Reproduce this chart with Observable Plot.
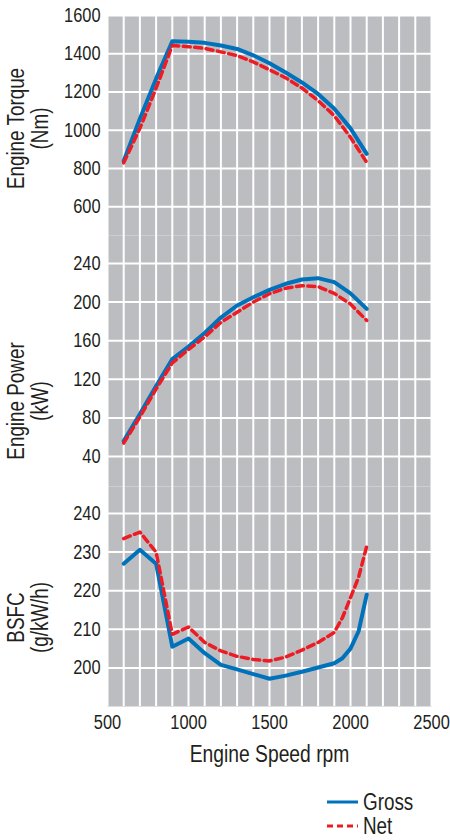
<!DOCTYPE html>
<html>
<head>
<meta charset="utf-8">
<script src="https://cdn.jsdelivr.net/npm/d3@7"></script>
<script src="https://cdn.jsdelivr.net/npm/@observablehq/plot@0.6"></script>
<style>
  body { margin: 0; background: #fff; font-family: "Liberation Sans", Arial, sans-serif; color: #231f20; }
  #chart svg { display: block; }
  #legend { position: absolute; left: 327px; top: 790px; font-size: 23px; }
  #legend .row { display: flex; align-items: center; height: 24px; gap: 5px; }
  #legend svg { display: block; }
  #legend span { display: inline-block; transform: scaleX(0.82); transform-origin: left center; }
</style>
</head>
<body>
<div id="chart"></div>
<div id="legend"></div>
<script>
// ---- data ----
const rpm = [600, 700, 800, 900, 1000, 1100, 1200, 1300, 1400, 1500, 1600, 1700, 1800, 1900, 2000, 2100];
const torqueGross = [840, 1060, 1270, 1465, 1463, 1457, 1443, 1425, 1392, 1350, 1302, 1250, 1190, 1113, 1010, 877];
const torqueNet   = [830, 1010, 1220, 1443, 1437, 1428, 1410, 1390, 1357, 1316, 1274, 1221, 1155, 1076, 963, 832];
const powerGross  = [56, 84, 113, 141, 154, 168, 184, 196.5, 205, 212.7, 219, 223.4, 224.8, 220.7, 209, 193];
const powerNet    = [54, 81, 110, 137, 151, 164, 179, 189.5, 200, 208.6, 214.4, 217, 216, 209, 198, 181];
const bsfcRpm   = [600, 700, 800, 900, 1000, 1100, 1200, 1300, 1400, 1500, 1600, 1700, 1800, 1900, 1950, 2000, 2050, 2100];
const bsfcGross = [227, 230.6, 227, 205.5, 207.6, 203.8, 200.8, 199.6, 198.4, 197.2, 198, 199, 200.1, 201.2, 202.5, 205, 209.5, 219];
const bsfcNet   = [233.5, 235.2, 230, 208.7, 210.6, 206.6, 204.4, 203, 202.2, 201.8, 202.8, 204.6, 206.6, 209.2, 213, 218.2, 223.5, 231.5];

const xTicks = [500, 1000, 1500, 2000, 2500];
const xGrid = d3.range(500, 2501, 100);
const torqueTicks = [600, 800, 1000, 1200, 1400, 1600];
const powerTicks = [40, 80, 120, 160, 200, 240];
const bsfcTicks = [200, 210, 220, 230, 240];
const series = ["Gross", "Net"];

const BLUE = "#0071bb", RED = "#ed1c24", GRAY = "#bcbdc1", INK = "#231f20";
const FONT = '"Liberation Sans", Arial, sans-serif';
const fmt = d => String(d);

function titleMarks(lines, dy) {
  return lines.map((line, i) => Plot.text([line], {
    text: d => d, frameAnchor: "left", textAnchor: "middle", lineAnchor: "middle",
    dx: -91 + 24 * i, dy, rotate: -90, fontSize: 23, fill: INK
  }));
}

function panel({xs, gross, net, yDomain, yTicks, title, titleDy, height, marginTop, marginBottom, showX}) {
  const data = xs.map((x, i) => ({rpm: x, gross: gross[i], net: net[i]}));
  const marks = [
    Plot.frame({fill: GRAY, stroke: "none"}),
    Plot.gridX(xGrid, {stroke: "white", strokeOpacity: 1, strokeWidth: 2}),
    Plot.gridY(yTicks, {stroke: "white", strokeOpacity: 1, strokeWidth: 2}),
    Plot.axisY(yTicks, {tickSize: 0, tickPadding: 7, label: null, fontSize: 20, tickFormat: fmt}),
    Plot.lineY(data, {x: "rpm", y: "gross", stroke: BLUE, strokeWidth: 4}),
    Plot.lineY(data, {x: "rpm", y: "net", stroke: RED, strokeWidth: 3.5, strokeDasharray: "7,4.5"}),
    ...titleMarks(title, titleDy)
  ];
  if (showX) {
    marks.push(Plot.axisX(xTicks, {tickSize: 0, tickPadding: 8, label: null, fontSize: 20, tickFormat: fmt}));
    marks.push(Plot.text(["Engine Speed rpm"], {text: d => d, frameAnchor: "bottom", dy: 55, fontSize: 23.5, fill: INK}));
  }
  return Plot.plot({
    width: 450, height, marginLeft: 107, marginRight: 19, marginTop, marginBottom,
    style: {fontFamily: FONT, color: INK, background: "transparent", overflow: "visible"},
    x: {domain: [500, 2500], axis: showX ? undefined : null},
    y: {domain: yDomain},
    marks
  });
}

// horizontally condense the glyphs (the reference uses a condensed face)
function condense(root, k = 0.82) {
  root.querySelectorAll("text").forEach(t => {
    const tr = t.getAttribute("transform") || "";
    if (tr.includes("rotate")) {
      t.setAttribute("transform", tr + ` scale(${k},1)`);
      return;
    }
    const parts = t.querySelectorAll("tspan");
    const targets = parts.length ? Array.from(parts) : [t];
    targets.forEach(el => {
      const L = el.getComputedTextLength();
      if (L > 0) {
        el.setAttribute("textLength", (L * k).toFixed(2));
        el.setAttribute("lengthAdjust", "spacingAndGlyphs");
      }
    });
  });
}

const chart = document.getElementById("chart");
chart.append(panel({xs: rpm, gross: torqueGross, net: torqueNet, yDomain: [450, 1600], yTicks: torqueTicks,
  title: ["Engine Torque", "(Nm)"], titleDy: 3, height: 235, marginTop: 15, marginBottom: 0, showX: false}));
chart.append(panel({xs: rpm, gross: powerGross, net: powerNet, yDomain: [9, 269], yTicks: powerTicks,
  title: ["Engine Power", "(kW)"], titleDy: 40, height: 251, marginTop: 0, marginBottom: 0, showX: false}));
chart.append(panel({xs: bsfcRpm, gross: bsfcGross, net: bsfcNet, yDomain: [190, 247], yTicks: bsfcTicks,
  title: ["BSFC", "(g/kW/h)"], titleDy: 21, height: 285, marginTop: 0, marginBottom: 65, showX: true}));
condense(chart);

// legend
const legend = document.getElementById("legend");
const styles = {Gross: {stroke: BLUE, dash: null, width: 3}, Net: {stroke: RED, dash: "6,4", width: 3}};
for (const s of series) {
  const st = styles[s];
  const row = document.createElement("div");
  row.className = "row";
  row.innerHTML = `<svg width="31" height="10"><line x1="0" x2="31" y1="5" y2="5" stroke="${st.stroke}" stroke-width="${st.width}" ${st.dash ? `stroke-dasharray="${st.dash}"` : ""}/></svg><span>${s}</span>`;
  legend.append(row);
}
</script>
</body>
</html>
